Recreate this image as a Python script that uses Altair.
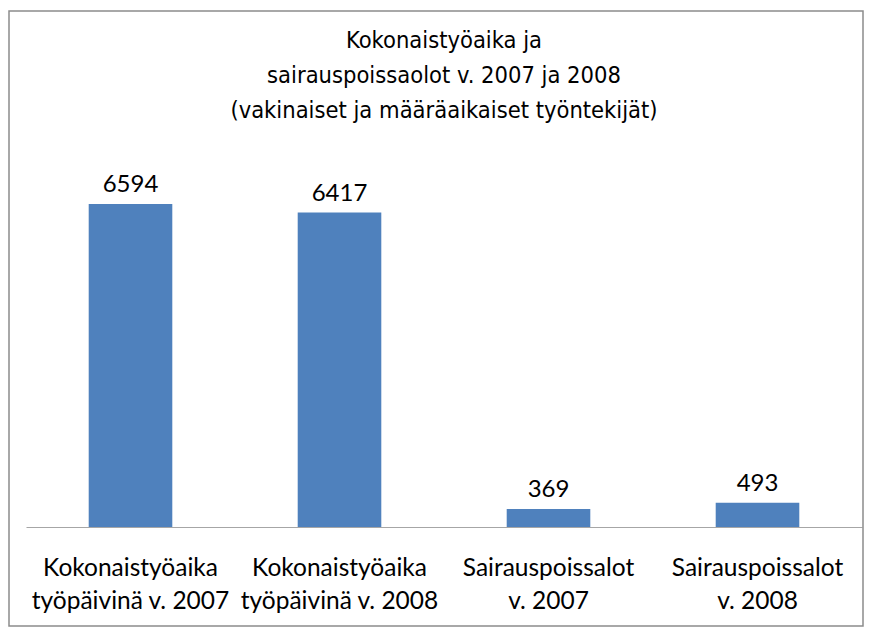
import altair as alt
import pandas as pd

categories = [
    "Kokonaistyöaika\ntyöpäivinä v. 2007",
    "Kokonaistyöaika\ntyöpäivinä v. 2008",
    "Sairauspoissalot\nv. 2007",
    "Sairauspoissalot\nv. 2008",
]
values = [6594, 6417, 369, 493]
title_lines = [
    "Kokonaistyöaika ja",
    "sairauspoissaolot v. 2007 ja 2008",
    "(vakinaiset ja määräaikaiset työntekijät)",
]

df = pd.DataFrame({"cat": categories, "val": values})

W, H = 836, 343

x = alt.X("cat:N", sort=categories, title=None,
          scale=alt.Scale(paddingInner=0.6, paddingOuter=0.3),
          axis=alt.Axis(labelExpr="split(datum.label, '\\n')", labelAngle=0,
                        labelFontSize=24.5, labelFont="Lato, sans-serif",
                        labelColor="#000000", labelLineHeight=33, labelPadding=29,
                        ticks=False, domainColor="#A6A6A6", domainWidth=1.2,
                        labelBaseline="top", labelLimit=400))
y = alt.Y("val:Q", scale=alt.Scale(domain=[0, 7000], nice=False), axis=None, title=None)

base = alt.Chart(df).encode(x=x, y=y)
bars = base.mark_bar(color="#4F81BD")
labels = base.mark_text(dy=-19, fontSize=24, font="Lato, sans-serif",
                        color="#000000").encode(text="val:Q")

border = alt.Chart(pd.DataFrame({"a": [0]})).mark_rect(
    fill=None, stroke="#8C8C8C", strokeWidth=1.5
).encode(x=alt.value(-17), x2=alt.value(837), y=alt.value(-173), y2=alt.value(442))

chart = alt.layer(bars, labels, border).properties(
    width=W, height=H,
    view=alt.ViewBackground(stroke="transparent", strokeWidth=0),
    title=alt.TitleParams(text=title_lines, fontSize=23.5, fontWeight="normal",
                          font="DejaVu Sans Condensed, sans-serif",
                          color="#000000", lineHeight=35, anchor="middle", offset=-112),
    autosize=alt.AutoSizeParams(type="none"),
    padding={"left": 18, "top": 176, "right": 2, "bottom": 100},
).configure_view(stroke="transparent", strokeWidth=0).configure(background="white")

chart.save("out.html", embed_options={"renderer": "svg", "actions": False})
